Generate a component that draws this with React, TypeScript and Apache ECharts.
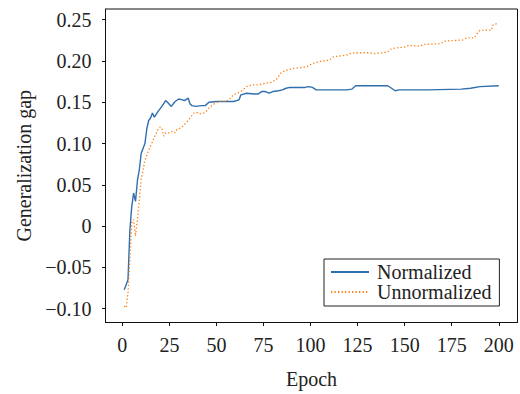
import React, { useEffect, useRef } from "react";
import * as echarts from "echarts";

const xTicks = [0, 25, 50, 75, 100, 125, 150, 175, 200];
const yTicks = [-0.1, -0.05, 0, 0.05, 0.1, 0.15, 0.2, 0.25];

const normEpochs = [1, 3, 4, 5, 6, 7, 8, 9, 10, 12, 13, 14, 15, 16, 17, 19, 21, 23, 24, 26, 28, 30, 32, 33, 35, 36, 37, 39, 42, 44, 46, 50, 59, 62, 63, 66, 70, 72, 74, 76, 78, 80, 83, 85, 87, 89, 97, 99, 101, 103, 119, 122, 124, 141, 143, 145, 147, 162, 180, 185, 190, 200];
const normValues = [-0.077, -0.065, -0.005, 0.024, 0.04, 0.03, 0.055, 0.068, 0.088, 0.1, 0.118, 0.128, 0.131, 0.137, 0.132, 0.139, 0.145, 0.152, 0.15, 0.145, 0.151, 0.154, 0.153, 0.152, 0.155, 0.148, 0.146, 0.145, 0.146, 0.146, 0.15, 0.151, 0.151, 0.153, 0.159, 0.161, 0.16, 0.16, 0.163, 0.163, 0.161, 0.163, 0.164, 0.165, 0.167, 0.168, 0.168, 0.169, 0.168, 0.165, 0.165, 0.166, 0.17, 0.17, 0.167, 0.164, 0.165, 0.165, 0.166, 0.167, 0.169, 0.17];

const unnormEpochs = [1, 2, 3, 4, 5, 6, 7, 8, 9, 10, 12, 13, 14, 16, 17, 19, 20, 21, 22, 23, 25, 27, 28, 29, 31, 33, 35, 36, 38, 40, 41, 44, 46, 48, 51, 55, 57, 59, 62, 63, 66, 69, 72, 76, 79, 82, 84, 86, 89, 94, 98, 101, 106, 110, 112, 115, 119, 121, 124, 131, 134, 138, 141, 143, 146, 150, 152, 158, 160, 169, 171, 181, 183, 187, 188, 190, 195, 196, 197, 200];
const unnormValues = [-0.097, -0.099, -0.081, -0.04, 0.004, 0.008, -0.012, 0.008, 0.032, 0.056, 0.08, 0.086, 0.092, 0.102, 0.108, 0.117, 0.12, 0.119, 0.109, 0.113, 0.113, 0.115, 0.113, 0.117, 0.119, 0.123, 0.128, 0.131, 0.137, 0.1375, 0.136, 0.1375, 0.143, 0.147, 0.151, 0.151, 0.154, 0.159, 0.162, 0.163, 0.169, 0.171, 0.171, 0.173, 0.174, 0.178, 0.185, 0.188, 0.19, 0.192, 0.193, 0.197, 0.2, 0.201, 0.205, 0.206, 0.207, 0.209, 0.21, 0.21, 0.209, 0.21, 0.211, 0.215, 0.216, 0.217, 0.219, 0.218, 0.22, 0.221, 0.224, 0.2255, 0.228, 0.228, 0.232, 0.237, 0.2375, 0.237, 0.244, 0.246];

const FONT = "Liberation Serif";
const TEXT = "#222";

function fmtY(v: number): string {
  if (Math.abs(v) < 1e-9) return "0";
  return (v < 0 ? "\u2212" : "") + Math.abs(v).toFixed(2);
}

const labelFont = { fontFamily: FONT, fontSize: 20, color: TEXT };

export default function App() {
  const ref = useRef<HTMLDivElement>(null);
  useEffect(() => {
    if (!ref.current) return;
    const chart = echarts.init(ref.current, undefined, { renderer: "svg" });
    chart.setOption({
      animation: false,
      backgroundColor: "#fff",
      textStyle: { fontFamily: FONT, fontSize: 20 },
      grid: {
        left: 105.5,
        right: 2.5,
        top: 9,
        bottom: 71.5,
        show: true,
        borderColor: "#111",
        borderWidth: 1,
        backgroundColor: "transparent",
      },
      legend: {
        orient: "vertical",
        left: 324,
        top: 259,
        padding: [3, 8, 4, 6],
        itemWidth: 38,
        itemHeight: 14,
        itemGap: 0,
        borderColor: "#222",
        borderWidth: 1,
        borderRadius: 0,
        backgroundColor: "#fff",
        itemStyle: { opacity: 0 },
        textStyle: { ...labelFont, padding: [0, 0, 0, 3] },
        data: ["Normalized", "Unnormalized"],
      },
      xAxis: {
        type: "value",
        min: -8.95,
        max: 209.95,
        name: "Epoch",
        nameLocation: "middle",
        nameGap: 46,
        nameTextStyle: { ...labelFont },
        axisLine: { show: true, onZero: false, lineStyle: { color: "#111", width: 1 } },
        axisTick: { show: true, length: 3.5, customValues: xTicks, lineStyle: { color: "#111" } },
        axisLabel: { customValues: xTicks, margin: 12, ...labelFont },
        splitLine: { show: false },
      },
      yAxis: {
        type: "value",
        min: -0.1167,
        max: 0.263,
        name: "Generalization gap",
        nameLocation: "middle",
        nameGap: 72,
        nameTextStyle: { ...labelFont },
        axisLine: { show: true, onZero: false, lineStyle: { color: "#111", width: 1 } },
        axisTick: { show: true, length: 3.5, customValues: yTicks, lineStyle: { color: "#111" } },
        axisLabel: {
          customValues: yTicks,
          margin: 14,
          ...labelFont,
          formatter: (v: number) => fmtY(v),
        },
        splitLine: { show: false },
      },
      series: [
        {
          name: "Normalized",
          type: "line",
          symbol: "none",
          data: normEpochs.map((e, i) => [e, normValues[i]]),
          lineStyle: { color: "#2f6fae", width: 1.4 },
          itemStyle: { color: "#2f6fae" },
        },
        {
          name: "Unnormalized",
          type: "line",
          symbol: "none",
          data: unnormEpochs.map((e, i) => [e, unnormValues[i]]),
          lineStyle: { color: "#ff7f0e", width: 1.3, type: [1.3, 2.2] },
          itemStyle: { color: "#ff7f0e" },
        },
      ],
    });
    return () => chart.dispose();
  }, []);
  return (
    <div
      ref={ref}
      style={{ position: "absolute", left: 0, top: 0, width: 520, height: 394 }}
    />
  );
}
